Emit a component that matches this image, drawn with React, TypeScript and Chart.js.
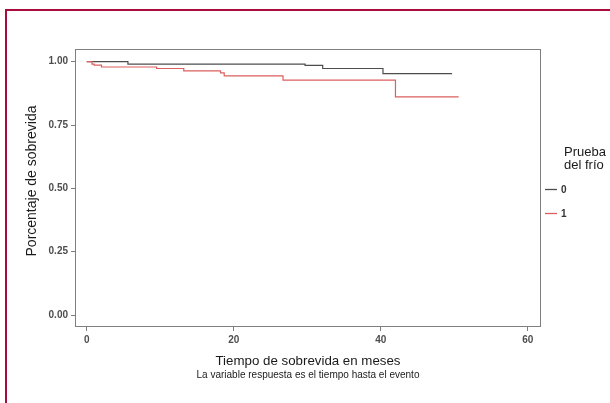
import React, { useEffect, useRef } from "react";
import { Chart, registerables } from "chart.js";
Chart.register(...registerables);

// Kaplan-Meier step data
const timesGroup0 = [0, 5.6, 29.7, 32.1, 40.3, 49.7];
const survGroup0 = [1.0, 0.99, 0.985, 0.973, 0.953, 0.953];
const timesGroup1 = [0, 0.7, 1.0, 2.0, 9.5, 13.2, 18.2, 18.7, 26.7, 42.0, 50.6];
const survGroup1 = [1.0, 0.99, 0.986, 0.979, 0.973, 0.964, 0.956, 0.944, 0.927, 0.861, 0.861];
const groupLabels = ["0", "1"];
const xTickValues = [0, 20, 40, 60];
const yTickValues = [0, 0.25, 0.5, 0.75, 1];

const xAxisTitle = "Tiempo de sobrevida en meses";
const xAxisSubtitle = "La variable respuesta es el tiempo hasta el evento";
const yAxisTitle = "Porcentaje de sobrevida";
const legendTitle = ["Prueba", "del frío"];

const GRAY = "#4d4d4d";
const RED = "#dc5f5f";
const FONT = "'Liberation Sans', Arial, sans-serif";

const overlay = {
  id: "overlay",
  afterDraw(chart: any) {
    const ctx = chart.ctx;
    const a = chart.chartArea;
    ctx.save();
    // plot box
    ctx.strokeStyle = "#7f7f7f";
    ctx.lineWidth = 1;
    ctx.strokeRect(Math.round(a.left) + 0.5, Math.round(a.top) + 0.5, Math.round(a.right - a.left) - 1, Math.round(a.bottom - a.top) - 1);
    // outer frame
    ctx.fillStyle = "#a80c3c";
    ctx.fillRect(5, 9, 2, 500);
    ctx.fillRect(5, 9, 700, 2);
    // axis titles
    const cx = (a.left + a.right) / 2;
    ctx.fillStyle = "#1a1a1a";
    ctx.textAlign = "center";
    ctx.textBaseline = "middle";
    ctx.font = `13.3px ${FONT}`;
    ctx.fillText(xAxisTitle, cx, 361);
    ctx.font = `10px ${FONT}`;
    ctx.fillText(xAxisSubtitle, cx, 375);
    ctx.save();
    ctx.translate(32, 181);
    ctx.rotate(-Math.PI / 2);
    ctx.font = `14px ${FONT}`;
    ctx.fillText(yAxisTitle, 0, 0);
    ctx.restore();
    // legend
    ctx.textAlign = "left";
    ctx.font = `13px ${FONT}`;
    ctx.fillText(legendTitle[0], 564, 152);
    ctx.fillText(legendTitle[1], 564, 165);
    const colors = [GRAY, RED];
    const ys = [189, 213];
    groupLabels.forEach((lab, i) => {
      ctx.strokeStyle = colors[i];
      ctx.lineWidth = 1.3;
      ctx.beginPath();
      ctx.moveTo(545, ys[i] + 0.5);
      ctx.lineTo(557, ys[i] + 0.5);
      ctx.stroke();
      ctx.fillStyle = "#333333";
      ctx.font = `bold 10px ${FONT}`;
      ctx.fillText(lab, 561, ys[i] + 1);
    });
    ctx.restore();
  },
};

export default function App() {
  const ref = useRef<HTMLCanvasElement>(null);
  useEffect(() => {
    if (!ref.current) return;
    const pts = (t: number[], s: number[]) => t.map((x, i) => ({ x, y: s[i] }));
    const chart = new Chart(ref.current, {
      type: "line",
      data: {
        datasets: [
          {
            label: groupLabels[0],
            data: pts(timesGroup0, survGroup0),
            borderColor: GRAY,
            borderWidth: 1.2,
            pointRadius: 0,
            stepped: "before",
            fill: false,
            order: 1,
          },
          {
            label: groupLabels[1],
            data: pts(timesGroup1, survGroup1),
            borderColor: RED,
            borderWidth: 1.2,
            pointRadius: 0,
            stepped: "before",
            fill: false,
            order: 0,
          },
        ],
      },
      options: {
        animation: false,
        responsive: false,
        layout: { padding: { top: 49, right: 69, bottom: 56, left: 0 } },
        plugins: { legend: { display: false }, tooltip: { enabled: false }, title: { display: false } },
        scales: {
          x: {
            type: "linear",
            min: -1.6,
            max: 61.8,
            afterBuildTicks: (s: any) => {
              s.ticks = xTickValues.map((v) => ({ value: v }));
            },
            afterFit: (s: any) => {
              s.height = 20;
            },
            grid: { drawOnChartArea: false, drawTicks: true, tickLength: 4, color: "#7f7f7f" },
            border: { display: false },
            ticks: {
              padding: 3,
              color: "#4d4d4d",
              font: { family: FONT, size: 10, weight: "bold" },
              callback: (v: any) => String(v),
              maxRotation: 0,
            },
          },
          y: {
            type: "linear",
            min: -0.047,
            max: 1.05,
            afterBuildTicks: (s: any) => {
              s.ticks = yTickValues.map((v) => ({ value: v }));
            },
            afterFit: (s: any) => {
              s.width = 75;
            },
            grid: { drawOnChartArea: false, drawTicks: true, tickLength: 4, color: "#7f7f7f" },
            border: { display: false },
            ticks: {
              padding: 3,
              color: "#4d4d4d",
              font: { family: FONT, size: 10, weight: "bold" },
              callback: (v: any) => Number(v).toFixed(2),
            },
          },
        },
      },
      plugins: [overlay],
    } as any);
    return () => chart.destroy();
  }, []);
  return (
    <div style={{ position: "fixed", left: 0, top: 0, width: 610, height: 403, background: "#fff" }}>
      <canvas ref={ref} width={610} height={403} style={{ display: "block" }} />
    </div>
  );
}
